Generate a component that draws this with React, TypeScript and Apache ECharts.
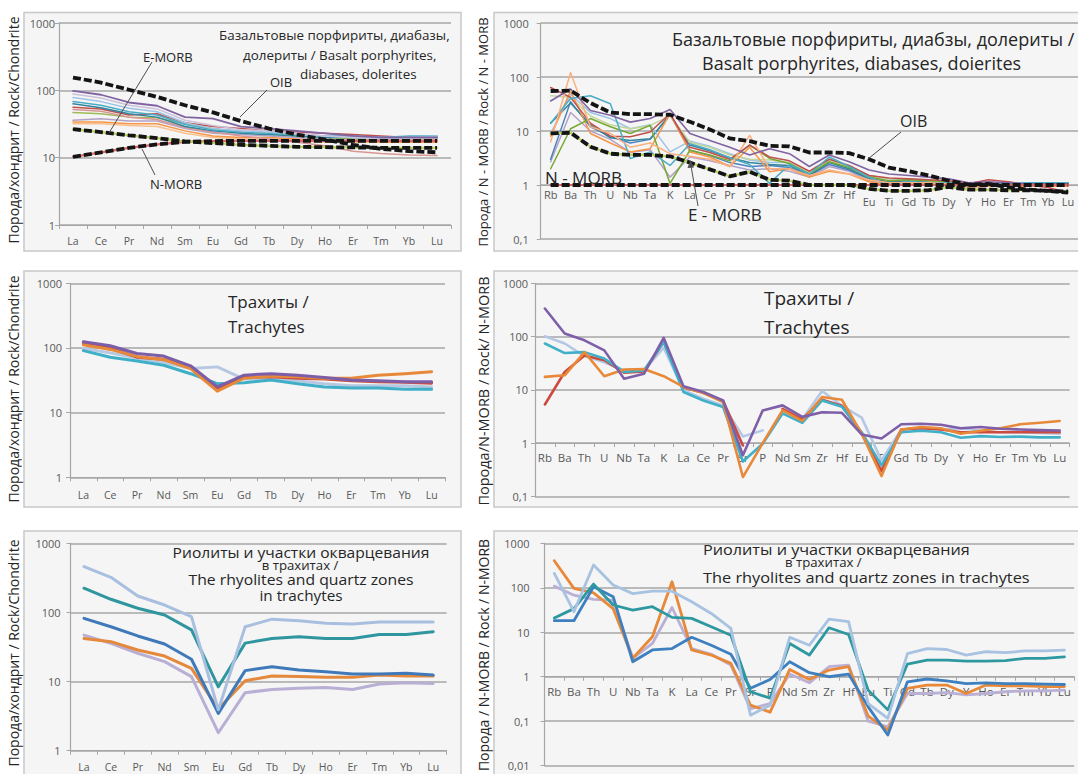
import { useEffect, useRef } from "react";
import * as echarts from "echarts";

// Element sequences
const REE = ["La", "Ce", "Pr", "Nd", "Sm", "Eu", "Gd", "Tb", "Dy", "Ho", "Er", "Tm", "Yb", "Lu"];
const SPIDER = ["Rb", "Ba", "Th", "U", "Nb", "Ta", "K", "La", "Ce", "Pr", "Sr", "P", "Nd", "Sm", "Zr", "Hf", "Eu", "Ti", "Gd", "Tb", "Dy", "Y", "Ho", "Er", "Tm", "Yb", "Lu"];
// Decade labels from 0.01 to 1000
const Y_TICKS = ["0,01", "0,1", "1", "10", "100", "1000"];

// ---- Basalt porphyrites, diabases, dolerites: chondrite-normalised REE ----
const basaltReeOIB = [155, 130, 102, 80, 60, 47, 35, 27, 22, 18.5, 15.5, 13.5, 12.5, 12];
const basaltReeEMORB = [26.5, 24, 21.5, 19.5, 17.5, 16.5, 15.5, 15, 14.5, 14.3, 14.2, 14, 14, 14];
const basaltReeNMORB = [10.3, 12, 14, 15.8, 17.2, 17.6, 17.8, 17.8, 17.8, 17.8, 17.8, 17.8, 17.8, 17.8];
const basaltReeS1 = [98, 86, 66, 59, 40, 38, 29, 27, 25, 23, 21, 20, 20, 20];
const basaltReeS2 = [88, 77, 60, 53, 36, 30, 26, 25, 23, 21, 20, 19, 19, 19];
const basaltReeS3 = [78, 68, 54, 48, 33, 27, 25, 24, 22, 21, 20, 20, 20, 21];
const basaltReeS4 = [68, 60, 48, 43, 31, 26, 24, 23, 22, 21, 21, 20, 21, 21];
const basaltReeS5 = [63, 55, 45, 40, 29, 25, 23, 22, 21, 20, 20, 19, 20, 20];
const basaltReeS6 = [56, 53, 43, 45, 33, 29, 27, 25, 24, 23, 22, 21, 20, 19];
const basaltReeS7 = [47, 45, 40, 39, 32, 27, 24, 23, 21, 20, 19, 19, 19, 19];
const basaltReeS8 = [36, 38, 35, 35, 27, 23, 22, 21, 20, 19, 18, 18, 18, 18];
const basaltReeS9 = [34, 34, 32, 32, 25, 21, 20, 20, 19, 18, 18, 17, 17, 17];
const basaltReeS10 = [32, 32, 30, 29, 23, 20, 19, 19, 18, 17, 17, 17, 17, 17];
const basaltReeS11 = [52, 49, 40, 37, 28, 24, 21, 19, 17, 15, 12.5, 11.5, 11, 10.8];

// ---- Basalt porphyrites: N-MORB-normalised multi-element ----
const basaltSpOIB = [55, 56, 33, 22, 20.6, 20.5, 20, 14.8, 10.7, 7.3, 6.5, 5.3, 5.2, 4.0, 4.0, 3.9, 3.0, 2.1, 1.8, 1.5, 1.2, 1.02, 1.05, 0.9, 0.82, 0.78, 0.72];
const basaltSpEMORB = [9, 9.3, 5.1, 3.8, 3.6, 3.6, 3.4, 2.6, 1.95, 1.45, 1.75, 1.25, 1.2, 1.0, 1.0, 1.0, 0.85, 0.78, 0.78, 0.8, 0.92, 0.82, 0.82, 0.8, 0.8, 0.78, 0.76];
const basaltSpNMORB = [1, 1, 1, 1, 1, 1, 1, 1, 1, 1, 1, 1, 1, 1, 1, 1, 1, 1, 1, 1, 1, 1, 1, 1, 1, 1, 1];
const basaltSpS1 = [6.3, 121, 12, 9, 5, 6, 3.8, 3.4, 3.0, 2.2, 8.3, 2.0, 2.0, 1.5, 1.9, 1.6, 1.25, 1.1, 1.1, 1.1, 1.05, 0.95, 1.0, 1.0, 0.98, 0.98, 1.0];
const basaltSpS2 = [36, 60, 24, 19.5, 14.6, 17, 25, 9, 6.7, 5, 3.6, 4.7, 3.8, 2.2, 3.6, 2.7, 1.9, 1.6, 1.5, 1.4, 1.3, 1.1, 1.15, 1.1, 1.05, 1.05, 1.05];
const basaltSpS3 = [14, 40, 45, 32, 3.1, 4.1, 2.3, 5.8, 4.5, 3.2, 2.4, 1.07, 2.4, 1.6, 3.3, 2.2, 1.4, 1.0, 1.15, 1.1, 1.1, 1.0, 1.05, 1.05, 1.1, 1.1, 1.1];
const basaltSpS4 = [2.0, 11, 17, 12, 9, 12.7, 1.07, 4.4, 3.6, 2.8, 5.5, 3.1, 2.5, 1.6, 2.7, 2.1, 1.4, 1.2, 1.25, 1.2, 1.15, 1.0, 1.05, 1.05, 1.05, 1.08, 1.1];
const basaltSpS5 = [64, 42, 14, 8, 7.8, 9.6, 21, 5, 4, 3, 5.5, 3.3, 2.8, 1.8, 3.0, 2.3, 1.5, 1.35, 1.3, 1.25, 1.2, 1.05, 1.25, 1.15, 1.0, 0.9, 0.72];
const basaltSpS6 = [45, 42, 19, 13, 11, 12.7, 19, 6.2, 5, 3.6, 3.0, 2.9, 2.6, 1.7, 2.9, 2.2, 1.45, 1.3, 1.3, 1.2, 1.15, 1.0, 1.05, 1.05, 1.05, 1.05, 1.05];
const basaltSpS7 = [14, 33, 13, 7.5, 6.7, 7.2, 20, 5.5, 4.3, 3.2, 2.6, 2.4, 2.3, 1.5, 2.6, 2.0, 1.3, 1.15, 1.2, 1.15, 1.1, 0.98, 1.0, 1.0, 1.0, 1.02, 1.05];
const basaltSpS8 = [9, 48, 22, 17, 11, 13, 4.1, 6.5, 5.2, 3.8, 2.9, 2.6, 2.6, 1.7, 3.0, 2.2, 1.5, 1.3, 1.25, 1.2, 1.15, 1.0, 1.1, 1.1, 1.1, 1.1, 1.1];
const basaltSpS9 = [2.7, 22, 10, 7, 4, 4.5, 1.4, 3.3, 2.8, 2.3, 1.9, 2.0, 1.8, 1.4, 2.2, 1.8, 1.2, 1.05, 1.05, 1.05, 1.0, 0.92, 0.95, 0.95, 0.95, 0.95, 0.95];
const basaltSpS10 = [3, 35, 12, 8, 6, 7, 20, 4.4, 3.5, 2.6, 2.2, 2.3, 2.1, 1.5, 2.4, 1.9, 1.3, 1.1, 1.1, 1.1, 1.05, 0.95, 1.0, 1.0, 1.0, 1.0, 1.0];
const basaltSpS11 = [8, 55, 9, 6, 4.1, 4.7, 21, 4.1, 3.3, 2.2, 5, 1.76, 2.0, 1.4, 1.8, 1.6, 1.15, 1.0, 1.05, 1.05, 1.05, 0.92, 0.95, 0.95, 0.95, 0.95, 0.95];

// ---- Trachytes: chondrite-normalised REE ----
const trachyReeLightBlue = [98, 84, 70, 60, 48, 51, 33, 34, 31, 28, 26, 26, 26, 25];
const trachyReeCyan = [91, 72, 63, 54, 40, 28, 29, 32, 28, 25, 24, 24, 23, 23];
const trachyReeRed = [118, 99, 72, 67, 50, 24, 35, 36, 34, 33, 31, 30, 29.5, 28.5];
const trachyReeOrange = [112, 95, 74, 66, 48, 21.5, 34, 37, 36, 34, 34, 38, 40, 43];
const trachyReePurple = [125, 108, 82, 75, 53, 25, 38, 40, 38, 35, 32, 31, 30, 30];

// ---- Trachytes: N-MORB-normalised multi-element ----
const trachySpLightBlue = [101, 74, 43, 33, 23, 23, 62, 9.8, 6.8, 5.1, 1.33, 1.73, null, 2.8, 9.5, 5.0, 3.0, 0.47, 1.8, 1.9, 1.8, 1.9, 1.7, 1.6, 1.6, 1.55, 1.5];
const trachySpCyan = [74, 49, 51, 38.6, 21.7, 23, 79, 9.1, 6.3, 4.75, 0.45, 0.97, 3.6, 2.4, 6.3, 4.8, 1.6, 0.38, 1.6, 1.7, 1.6, 1.26, 1.35, 1.3, 1.32, 1.28, 1.28];
const trachySpRed = [5.3, 21.6, 44, 36, 21, 22, 80, 11, 8.8, 6.2, 0.9, null, 4.4, 2.8, 6.5, 5.0, 1.5, 0.3, 1.8, 1.9, 1.8, 1.6, 1.6, 1.6, 1.6, 1.6, 1.6];
const trachySpOrange = [17.5, 18.7, 51, 18, 24, 24.6, 18, 11.3, 8.7, 5.9, 0.23, 1.0, 4.1, 2.6, 7.3, 6.5, 1.5, 0.24, 1.8, 2.0, 1.9, 1.5, 1.7, 1.9, 2.25, 2.4, 2.6];
const trachySpPurple = [336, 114, 85, 55, 16.2, 20, 94, 11.6, 9.1, 6.3, 0.59, 4.1, 5.1, 3.1, 3.8, 3.7, 1.45, 1.22, 2.25, 2.3, 2.2, 1.9, 2.0, 1.85, 1.8, 1.75, 1.72];

// ---- Rhyolites and quartz zones: chondrite-normalised REE ----
const rhyoReeLightBlue = [460, 322, 173, 128, 87, 3.9, 62, 80, 76, 69.5, 68, 73, 73, 73];
const rhyoReeTeal = [224, 155, 115, 92, 56, 8.4, 36, 42, 44.5, 42, 42, 48, 48, 52.7];
const rhyoReeBlue = [82, 62, 45.7, 35, 21, 3.47, 14.4, 16.4, 14.7, 13.9, 12.9, 12.9, 13.2, 12.4];
const rhyoReeOrange = [42, 37.8, 28.6, 23.4, 15.5, 4.0, 10.3, 12, 11.8, 11.5, 11.5, 12.4, 12, 12];
const rhyoReeLavender = [47, 35.7, 25.7, 19.4, 11.8, 1.82, 6.9, 7.7, 8.0, 8.2, 7.7, 9.2, 9.6, 9.4];

// ---- Rhyolites and quartz zones: N-MORB-normalised multi-element ----
const rhyoSpLavender = [109, 68, 55, 53, 2.6, 5.6, 36, 4.3, 3.2, 1.83, 0.19, 0.25, 1.15, 0.73, 1.68, 1.83, 0.1, 0.075, 0.42, 0.42, 0.44, 0.39, 0.42, 0.46, 0.48, 0.48, 0.5];
const rhyoSpOrange = [405, 97, 77, 34, 2.6, 7.9, 137, 4.0, 3.07, 2.0, 0.23, 0.16, 1.46, 0.87, 1.41, 1.68, 0.13, 0.063, 0.55, 0.65, 0.65, 0.42, 0.65, 0.62, 0.62, 0.6, 0.6];
const rhyoSpBlue = [18.2, 18.2, 105, 63, 2.17, 4.0, 4.3, 7.7, 5.1, 3.2, 0.55, 0.87, 2.17, 1.23, 1.0, 1.15, 0.21, 0.049, 0.77, 0.89, 0.81, 0.7, 0.73, 0.7, 0.7, 0.68, 0.67];
const rhyoSpTeal = [21, 34, 121, 41, 31.6, 37.5, 21.6, 20.5, 13.3, 8.6, 0.46, 0.33, 5.6, 3.07, 12.6, 8.9, 0.5, 0.18, 1.93, 2.37, 2.37, 2.25, 2.25, 2.3, 2.6, 2.6, 2.8];
const rhyoSpLightBlue = [210, 29, 325, 115, 74, 84, 84, 48.6, 26.5, 12.2, 0.137, 0.23, 7.7, 5.1, 19.8, 17.3, 0.25, 0.116, 3.3, 4.3, 4.1, 3.07, 3.65, 3.5, 3.8, 3.8, 3.97];

const FONT = "'Open Sans', 'Noto Sans', sans-serif";
const AXIS_GREY = "#a6a6a6";
const LABEL_GREY = "#595959";
const TEXT = "#262626";

type Layout = {
  left: number; top: number; width: number; height: number;
  min: number; max: number; cats: string[];
  labelMargin: number; labelSize: number; axisAtOne: boolean;
  yLabelMargin: number; lowerFrom?: number; ticks: boolean;
};

const LAYOUTS: Layout[] = [
  { left: 59, top: 23, width: 392, height: 202, min: 1, max: 1000, cats: REE, labelMargin: 10, labelSize: 10.5, axisAtOne: false, yLabelMargin: 4, ticks: true },
  { left: 540.7, top: 23, width: 538.4, height: 216, min: 0.1, max: 1000, cats: SPIDER, labelMargin: 4, labelSize: 11, axisAtOne: true, yLabelMargin: 12, lowerFrom: 16, ticks: false },
  { left: 70, top: 283.3, width: 375, height: 194, min: 1, max: 1000, cats: REE, labelMargin: 12, labelSize: 10.5, axisAtOne: false, yLabelMargin: 8, ticks: true },
  { left: 535, top: 283.3, width: 534.6, height: 213, min: 0.1, max: 1000, cats: SPIDER, labelMargin: 8, labelSize: 11.5, axisAtOne: true, yLabelMargin: 7, ticks: true },
  { left: 70.6, top: 543.3, width: 376, height: 207.4, min: 1, max: 1000, cats: REE, labelMargin: 11, labelSize: 10.5, axisAtOne: false, yLabelMargin: 10, ticks: true },
  { left: 544.5, top: 543.3, width: 529.7, height: 222.4, min: 0.01, max: 1000, cats: SPIDER, labelMargin: 9, labelSize: 11.5, axisAtOne: true, yLabelMargin: 15, ticks: true },
];

function line(grid: number, data: (number | null)[], color: string, width: number, z = 3) {
  return {
    type: "line", xAxisIndex: grid, yAxisIndex: grid, data, symbol: "none", silent: true,
    connectNulls: false, z,
    lineStyle: { color, width, cap: "round", join: "round" },
  };
}

function dashed(grid: number, data: number[], under: string | null, z = 6) {
  const out: any[] = [];
  if (under) out.push(line(grid, data, under, 2.2, z));
  out.push({
    type: "line", xAxisIndex: grid, yAxisIndex: grid, data, symbol: "none", silent: true, z: z + 1,
    lineStyle: { color: "#141414", width: 3.8, type: [8, 3] },
  });
  return out;
}

function text(t: string, x: number, y: number, size: number, align = "left", rotation = 0, scaleX = 1) {
  return {
    type: "text", x, y, rotation, scaleX, z: 20,
    style: {
      text: t, fill: TEXT, fontSize: size, fontFamily: FONT,
      align, textAlign: align, verticalAlign: "middle", textVerticalAlign: "middle",
    },
  };
}

function seg(x1: number, y1: number, x2: number, y2: number) {
  return { type: "line", z: 20, shape: { x1, y1, x2, y2 }, style: { stroke: "#4d4d4d", lineWidth: 1 } };
}

function box(x: number, y: number, w: number, h: number) {
  return { type: "rect", z: -10, shape: { x, y, width: w, height: h }, style: { fill: "#f5f5f5", stroke: "#c8c8c8", lineWidth: 1.5 } };
}

function buildOption() {
  const grid = LAYOUTS.map((L) => ({ left: L.left, top: L.top, width: L.width, height: L.height, containLabel: false }));

  const xAxis = LAYOUTS.map((L, i) => {
    const decade = L.height / (Math.log10(L.max) - Math.log10(L.min));
    const offset = L.axisAtOne ? -decade * -Math.log10(L.min) : 0;
    const lowerFrom = L.lowerFrom;
    return {
      type: "category", gridIndex: i, data: L.cats, boundaryGap: true, position: "bottom", offset,
      axisLine: { show: true, lineStyle: { color: AXIS_GREY, width: 1.2 } },
      axisTick: { show: L.ticks, length: 4, lineStyle: { color: AXIS_GREY } },
      splitLine: { show: false },
      axisLabel: {
        interval: 0, margin: L.labelMargin, fontSize: L.labelSize, color: LABEL_GREY, fontFamily: FONT,
        formatter: lowerFrom !== undefined
          ? (v: string, idx: number) => (idx >= lowerFrom ? `{low|${v}}` : v)
          : undefined,
        rich: { low: { padding: [7, 0, 0, 0], fontSize: L.labelSize, color: LABEL_GREY, fontFamily: FONT } },
      },
    };
  });

  const yAxis = LAYOUTS.map((L, i) => ({
    type: "log", logBase: 10, gridIndex: i, min: L.min, max: L.max,
    axisLine: { show: true, lineStyle: { color: AXIS_GREY, width: 1.2 } },
    axisTick: { show: true, length: 4, lineStyle: { color: AXIS_GREY } },
    minorTick: { show: false },
    axisLabel: {
      margin: L.yLabelMargin, fontSize: 11, color: LABEL_GREY, fontFamily: FONT,
      formatter: (v: number) => Y_TICKS[Math.round(Math.log10(v)) + 2],
    },
    splitLine: { show: true, lineStyle: { color: AXIS_GREY, width: 1.5 } },
  }));

  const series: any[] = [
    // Basalt REE
    line(0, basaltReeS10, "#fac090", 1.5),
    line(0, basaltReeS9, "#f79646", 1.5),
    line(0, basaltReeS8, "#b3a2c7", 1.5),
    line(0, basaltReeS7, "#9bbb59", 1.5),
    line(0, basaltReeS11, "#d99694", 1.5),
    line(0, basaltReeS6, "#c0504d", 1.5),
    line(0, basaltReeS5, "#31859c", 1.5),
    line(0, basaltReeS4, "#4bacc6", 1.5),
    line(0, basaltReeS3, "#9dc3e6", 1.5),
    line(0, basaltReeS2, "#ccc1da", 1.5),
    line(0, basaltReeS1, "#8064a2", 1.8),
    ...dashed(0, basaltReeNMORB, "#e06666"),
    ...dashed(0, basaltReeEMORB, "#b5d35a"),
    ...dashed(0, basaltReeOIB, null),

    // Basalt multi-element
    line(1, basaltSpS9, "#b3a2c7", 1.5),
    line(1, basaltSpS10, "#4f81bd", 1.5),
    line(1, basaltSpS7, "#31859c", 1.5),
    line(1, basaltSpS8, "#9dc3e6", 1.5),
    line(1, basaltSpS6, "#c3d69b", 1.5),
    line(1, basaltSpS11, "#f79646", 1.5),
    line(1, basaltSpS4, "#77a832", 1.5),
    line(1, basaltSpS5, "#c0504d", 1.5),
    line(1, basaltSpS3, "#4bacc6", 1.5),
    line(1, basaltSpS1, "#fab080", 1.5),
    line(1, basaltSpS2, "#8064a2", 1.6),
    ...dashed(1, basaltSpNMORB, "#e06666"),
    ...dashed(1, basaltSpEMORB, "#b5d35a"),
    ...dashed(1, basaltSpOIB, null),

    // Trachytes REE
    line(2, trachyReeLightBlue, "#b6c8e2", 3),
    line(2, trachyReeCyan, "#3fafc8", 3),
    line(2, trachyReeRed, "#c9503f", 3),
    line(2, trachyReeOrange, "#e8893a", 3),
    line(2, trachyReePurple, "#7b5ea7", 3),

    // Trachytes multi-element
    line(3, trachySpLightBlue, "#b4c8e6", 2.6),
    line(3, trachySpRed, "#cc4a3e", 2.6),
    line(3, trachySpCyan, "#3fb0c8", 2.6),
    line(3, trachySpOrange, "#e8893a", 2.6),
    line(3, trachySpPurple, "#7e5fa8", 2.6),

    // Rhyolites REE
    line(4, rhyoReeLavender, "#b9afd4", 3),
    line(4, rhyoReeOrange, "#e4883c", 3),
    line(4, rhyoReeBlue, "#3f79ba", 3),
    line(4, rhyoReeTeal, "#2f969f", 3),
    line(4, rhyoReeLightBlue, "#a9bfdf", 3),

    // Rhyolites multi-element
    line(5, rhyoSpLavender, "#bab0d5", 2.8),
    line(5, rhyoSpOrange, "#e8893a", 2.8),
    line(5, rhyoSpBlue, "#3e7fc0", 2.8),
    line(5, rhyoSpTeal, "#2e98a0", 2.8),
    line(5, rhyoSpLightBlue, "#a8c2e2", 2.8),
  ];

  const graphic: any[] = [
    box(24, 12.5, 437, 238.5),
    box(494, 12.5, 600, 238.5),
    box(24, 271, 437, 236),
    box(494, 271, 600, 236),
    box(24, 531, 437, 260),
    box(494, 531, 600, 260),

    // Axis titles
    text("Порода/хондрит / Rock/Chondrite", 13, 130, 14, "center", Math.PI / 2),
    text("Порода / N - MORB / Rock / N - MORB", 483, 132, 13, "center", Math.PI / 2),
    text("Порода/хондрит / Rock/Chondrite", 13, 389, 14, "center", Math.PI / 2),
    text("Порода/N-MORB / Rock/ N-MORB", 483, 391, 14.5, "center", Math.PI / 2),
    text("Порода/хондрит / Rock/Chondrite", 13, 653, 14, "center", Math.PI / 2),
    text("Порода / N-MORB / Rock / N-MORB", 483, 655, 14, "center", Math.PI / 2),

    // Basalt REE panel
    text("Базальтовые порфириты, диабазы,", 219, 35, 13.4),
    text("долериты / Basalt porphyrites,", 243, 55, 13.4),
    text("diabases, dolerites", 300, 74, 13.4),
    text("E-MORB", 143, 57, 13),
    text("OIB", 270, 82, 13),
    text("N-MORB", 150, 184, 13),
    seg(152, 62, 109, 133),
    seg(267, 90, 240, 117),
    seg(155, 175, 142, 149),

    // Basalt multi-element panel
    text("Базальтовые порфириты, диабзы, долериты /", 672, 39, 18),
    text("Basalt porphyrites, diabases, doierites", 702, 63, 18),
    text("OIB", 900, 121, 16),
    text("N - MORB", 545, 177, 17),
    text("E - MORB", 688, 214, 17),
    seg(901, 132, 868, 159),
    seg(698, 206, 691, 166),
    { type: "polygon", z: 20, shape: { points: [[690.5, 160], [687.5, 168], [694, 167.5]] }, style: { fill: "#4d4d4d" } },

    // Trachyte panels
    text("Трахиты /", 228, 301, 17),
    text("Trachytes", 228, 326, 17),
    text("Трахиты /", 764, 298, 19),
    text("Trachytes", 764, 327, 19),

    // Rhyolite panels
    text("Риолиты и участки окварцевания", 301, 552, 15, "center", 0, 1.04),
    text("в трахитах /", 300, 565.5, 12, "center", 0, 1.1),
    text("The rhyolites and quartz zones", 301, 579.5, 15, "center", 0, 1.05),
    text("in trachytes", 301, 595, 15, "center", 0, 1.02),
    text("Риолиты и участки окварцевания", 703, 549.5, 15, "left", 0, 1.08),
    text("в трахитах /", 785, 563, 12, "left", 0, 1.1),
    text("The rhyolites and quartz zones in trachytes", 703, 577, 15, "left", 0, 1.09),
  ];

  return { animation: false, backgroundColor: "#ffffff", grid, xAxis, yAxis, series, graphic };
}

export default function App() {
  const ref = useRef<HTMLDivElement>(null);
  useEffect(() => {
    if (!ref.current) return;
    const chart = echarts.init(ref.current, undefined, { renderer: "svg" });
    chart.setOption(buildOption() as any);
    return () => chart.dispose();
  }, []);
  return (
    <div
      ref={ref}
      style={{ position: "fixed", left: 0, top: 0, width: 1078, height: 774, background: "#ffffff" }}
    />
  );
}
